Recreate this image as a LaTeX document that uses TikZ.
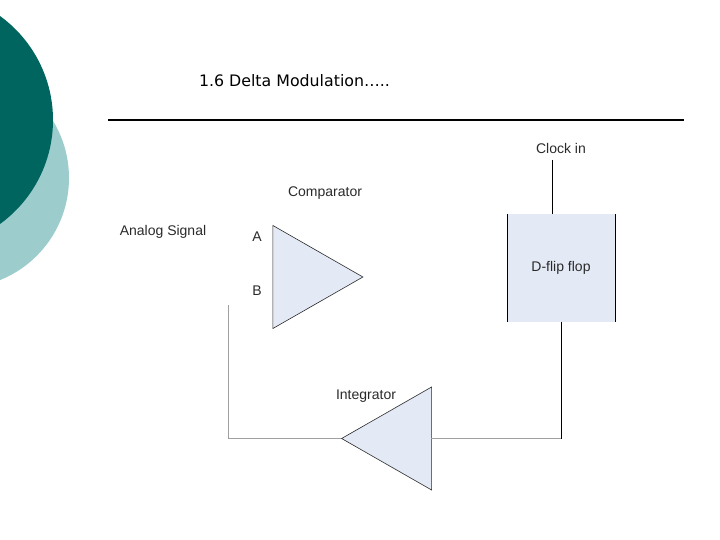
\documentclass[tikz,border=0pt]{standalone}
\usepackage{fontspec}
\setmainfont{Liberation Sans}
\newfontfamily\titlefont{DejaVu Sans}
\usetikzlibrary{shapes.geometric}
\definecolor{DarkTeal}{HTML}{00655F}
\definecolor{SoftTeal}{HTML}{9CCDCC}
\definecolor{SoftBlue}{HTML}{E4EAF5}
\definecolor{Wire}{HTML}{A0A0A0}
\definecolor{Ink}{HTML}{2A2A2A}

\begin{document}
\begin{tikzpicture}[
  x=1pt,y=-1pt,
  label/.style={inner sep=0pt,text=Ink,font=\fontsize{14}{16}\selectfont},
  amp/.style={isosceles triangle,isosceles triangle apex angle=59.6,isosceles triangle stretches,
    minimum height=90pt,minimum width=103pt,inner sep=0pt,draw=Ink,line width=0.6pt,fill=SoftBlue},
  box/.style={inner sep=0pt,minimum width=108pt,minimum height=108pt,fill=SoftBlue},
  wire/.style={draw=black,line width=0.9pt},
  feedback/.style={draw=Wire,line width=1pt}
]
\useasboundingbox (0,0) rectangle (720,540);
\fill[SoftTeal] (-41,178) circle (110);
\fill[DarkTeal] (-75.5,120) circle (128.5);
\node[inner sep=0pt,font=\titlefont\fontsize{15.8}{18}\selectfont] (title) at (294.5,81) {1.6 Delta Modulation…..};
\coordinate (ruleL) at (108,120);
\coordinate (ruleR) at (684,120);
\draw[black,line width=2pt] (ruleL) -- (ruleR);
\node[amp,anchor=apex] (cmp) at (363.5,277) {};
\node[amp,anchor=apex,shape border rotate=180] (int) at (341,438.5) {};
\node[box] (ff) at (561.3,268) {};
\node[label] (clk) at (561,148) {Clock in};
\node[label] (cmplbl) at (325,193.5) {Comparator};
\node[label] (ana) at (163,232) {Analog Signal};
\node[label] (a) at (257,237) {A};
\node[label] (b) at (257,291) {B};
\node[label] (fflbl) at (561,267.5) {D-flip flop};
\node[label] (intlbl) at (366,396.5) {Integrator};
\coordinate (clkend) at (552,160);
\coordinate (clkin) at (552,214);
\coordinate (ffout) at (561,322);
\coordinate (corner) at (561,438.5);
\coordinate (fbcorner) at (228,438.5);
\coordinate (fbend) at (228,305);
\draw[wire] (ff.north west) -- (ff.south west);
\draw[wire] (ff.north east) -- (ff.south east);
\draw[wire] (clkend) -- (clkin);
\draw[wire] (ffout) -- (corner);
\draw[feedback] (corner) -- (431,438.5);
\draw[feedback] (int.apex) -- (fbcorner) -- (fbend);
\end{tikzpicture}
\end{document}
